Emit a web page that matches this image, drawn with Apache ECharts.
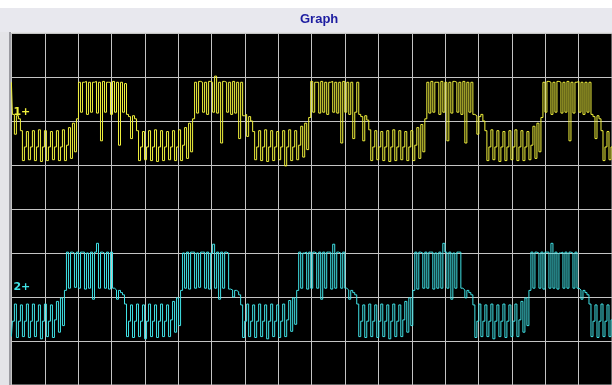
<!DOCTYPE html>
<html>
<head>
<meta charset="utf-8">
<script src="https://cdn.jsdelivr.net/npm/echarts@6/dist/echarts.min.js"></script>
<style>
html,body{margin:0;padding:0;background:#fff;}
#chart{width:612px;height:385px;}
</style>
</head>
<body>
<div id="chart"></div>
<script>
// Time base: horizontal divisions per sample
const sampleInterval = 0.06;
const channelNames = ['1+', '2+'];
const channelMarkerLevels = [6.2, 2.23];

// Channel 1 (yellow) trace, vertical divisions
const ch1Pre = [6.88, 6.15, 5.7, 6.12, 6.05,
  5.78, 5.1, 5.41, 5.76, 5.12, 5.41, 5.78, 5.1, 5.41, 5.8, 5.08, 5.41, 5.78, 5.1, 5.41, 5.76, 5.12, 5.41, 5.78, 5.1, 5.41, 5.8, 5.1, 5.45,
  5.85, 5.15, 5.95, 5.3, 6.05];
const ch1Period1 = [6.88, 6.2, 6.88, 6.9, 6.15, 6.88, 6.2, 6.88, 6.9, 6.18, 6.88, 5.55, 6.9, 6.2, 6.88, 6.88, 6.15, 6.9, 6.2, 6.88, 5.45, 6.88, 6.2,
  6.85, 6.15, 6.1, 5.6, 6.12, 6.05,
  5.78, 5.1, 5.41, 5.76, 5.12, 5.41, 5.78, 5.1, 5.41, 5.8, 5.08, 5.41, 5.78, 5.1, 5.41, 5.76, 5.12, 5.41, 5.78, 5.1, 5.41, 5.8, 5.1, 5.45,
  5.85, 5.15, 5.95, 5.3, 6.05];
const ch1Period2 = [6.88, 6.18, 6.9, 6.88, 6.2, 6.88, 6.15, 6.9, 6.88, 6.2, 7.02, 6.18, 6.88, 5.5, 6.9, 6.88, 6.2, 6.88, 6.15, 6.9, 6.18, 6.88, 5.6,
  6.88, 6.12, 6.15, 5.65, 6.1, 6.0,
  5.76, 5.12, 5.41, 5.78, 5.1, 5.41, 5.8, 5.08, 5.41, 5.78, 5.1, 5.41, 5.76, 5.12, 5.41, 5.78, 4.98, 5.41, 5.8, 5.1, 5.41, 5.78, 5.12, 5.45,
  5.88, 5.18, 5.95, 5.35, 6.08];
const ch1Period3 = [6.9, 6.2, 6.88, 6.88, 6.18, 6.9, 6.2, 6.88, 6.15, 6.88, 6.9, 6.2, 6.88, 6.18, 6.88, 5.5, 6.9, 6.2, 6.88, 6.15, 6.88, 5.6, 6.2,
  6.88, 6.15, 6.1, 5.55, 6.12, 6.02,
  5.8, 5.1, 5.41, 5.78, 5.12, 5.41, 5.76, 5.1, 5.41, 5.78, 5.08, 5.41, 5.8, 5.1, 5.41, 5.78, 5.12, 5.41, 5.76, 5.1, 5.41, 5.78, 5.1, 5.45,
  5.85, 5.15, 5.92, 5.3, 6.05];
const ch1Period4 = [6.88, 6.18, 6.9, 6.2, 6.88, 6.88, 6.15, 6.9, 6.2, 6.88, 5.55, 6.88, 6.18, 6.9, 6.88, 6.2, 6.88, 6.15, 6.9, 5.5, 6.88, 6.2, 6.88,
  6.15, 6.12, 5.7, 6.1, 6.15, 6.0,
  5.78, 5.1, 5.41, 5.8, 5.12, 5.41, 5.78, 5.08, 5.41, 5.76, 5.1, 5.41, 5.78, 5.12, 5.41, 5.8, 5.1, 5.41, 5.78, 5.1, 5.41, 5.76, 5.12, 5.45,
  5.88, 5.15, 5.95, 5.3, 6.08];
const ch1Period5 = [6.88, 6.2, 6.9, 6.88, 6.15, 6.88, 6.2, 6.9, 6.88, 6.18, 6.88, 6.2, 6.9, 5.55, 6.88, 6.18, 6.88, 6.9, 6.2, 6.88, 6.15, 6.88, 6.2,
  6.88, 6.15, 6.1, 5.6, 6.12, 6.05,
  5.78, 5.1, 5.41, 5.76, 5.12, 5.41];

// Channel 2 (cyan) trace, vertical divisions
const ch2Pre = [1.1, 1.45, 1.84, 1.08, 1.45, 1.82, 1.1, 1.45, 1.84, 1.08, 1.45, 1.84, 1.1, 1.45, 1.82, 1.05, 1.45, 1.84, 1.1, 1.45, 1.82, 1.08, 1.48,
  1.9, 1.2, 1.98, 1.35, 2.15];
const ch2Period1 = [3.02, 2.2, 3.02, 3.0, 2.22, 3.02, 2.2, 3.02, 3.02, 2.18, 3.0, 2.2, 3.02, 1.95, 3.02, 3.22, 2.2, 3.02, 3.0, 2.2, 3.02, 2.18, 3.02,
  2.2, 2.16, 1.95, 2.15, 2.1, 2.05,
  1.84, 1.1, 1.45, 1.82, 1.08, 1.45, 1.84, 1.1, 1.45, 1.82, 1.05, 1.45, 1.84, 1.1, 1.45, 1.82, 1.08, 1.45, 1.84, 1.1, 1.45, 1.82, 1.1, 1.48,
  1.9, 1.2, 1.98, 1.35, 2.15];
const ch2Period2 = [3.0, 2.2, 3.02, 2.18, 3.02, 3.02, 2.2, 3.0, 2.22, 3.02, 3.02, 2.2, 3.02, 2.18, 3.0, 3.2, 2.2, 3.02, 1.95, 3.02, 2.2, 3.02, 3.0,
  2.18, 2.16, 2.0, 2.15, 2.12, 2.05,
  1.82, 1.08, 1.45, 1.84, 1.1, 1.45, 1.82, 1.08, 1.45, 1.84, 1.1, 1.45, 1.82, 1.05, 1.45, 1.84, 1.1, 1.45, 1.82, 1.08, 1.45, 1.84, 1.1, 1.48,
  1.92, 1.22, 1.98, 1.38, 2.15];
const ch2Period3 = [3.02, 2.2, 3.0, 3.02, 2.18, 3.02, 2.2, 3.02, 3.0, 2.2, 3.02, 1.95, 3.02, 2.2, 3.02, 3.02, 2.18, 3.2, 2.2, 3.02, 3.0, 2.2, 3.02,
  2.2, 2.16, 1.95, 2.15, 2.1, 2.05,
  1.84, 1.1, 1.45, 1.82, 1.08, 1.45, 1.84, 1.1, 1.45, 1.82, 1.08, 1.45, 1.84, 1.1, 1.45, 1.82, 1.05, 1.45, 1.84, 1.1, 1.45, 1.82, 1.1, 1.48,
  1.9, 1.2, 1.98, 1.35, 2.15];
const ch2Period4 = [3.02, 2.18, 3.02, 3.0, 2.2, 3.02, 2.2, 3.02, 3.02, 2.18, 3.0, 2.2, 3.02, 2.2, 3.22, 3.02, 2.2, 3.02, 1.95, 3.0, 2.2, 3.02, 3.02,
  2.2, 2.16, 1.98, 2.15, 2.1, 2.05,
  1.82, 1.08, 1.45, 1.84, 1.1, 1.45, 1.82, 1.1, 1.45, 1.84, 1.05, 1.45, 1.82, 1.1, 1.45, 1.84, 1.08, 1.45, 1.82, 1.1, 1.45, 1.84, 1.1, 1.48,
  1.9, 1.2, 1.98, 1.35, 2.15];
const ch2Period5 = [3.02, 2.2, 3.02, 3.0, 2.2, 3.02, 2.18, 3.02, 3.02, 2.2, 3.22, 2.2, 3.02, 2.18, 3.0, 3.02, 2.2, 3.02, 2.2, 3.02, 3.0, 2.2, 3.02,
  2.2, 2.16, 1.95, 2.15, 2.1, 2.05,
  1.84, 1.1, 1.45, 1.82, 1.08, 1.45, 1.84, 1.1, 1.45, 1.82, 1.1, 1.48];

const ch1 = [].concat(ch1Pre, ch1Period1, ch1Period2, ch1Period3, ch1Period4, ch1Period5);
const ch2 = [].concat(ch2Pre, ch2Period1, ch2Period2, ch2Period3, ch2Period4, ch2Period5);
const toXY = arr => arr.map((v, i) => [i * sampleInterval, v]);

const YELLOW = '#f0f03c';
const CYAN = '#40e2e6';
const GRIDC = '#c4c4c4';

const chart = echarts.init(document.getElementById('chart'), null, {renderer: 'canvas'});
function marker(name, level, color) {
  return {
    symbol: 'rect', symbolSize: 0, silent: true,
    data: [{ coord: [0, level],
      label: { show: true, formatter: name, position: 'right', distance: 2, color: color,
               fontSize: 11, fontWeight: 'bold', fontFamily: 'DejaVu Sans' } }]
  };
}
chart.setOption({
  animation: false,
  backgroundColor: '#ffffff',
  graphic: [
    { type: 'rect', shape: { x: 0, y: 8, width: 612, height: 24 }, style: { fill: '#e8e8ee' }, z: -10 },
    { type: 'rect', shape: { x: 0, y: 32, width: 10, height: 353 }, style: { fill: '#e4e4e8' }, z: -10 },
    { type: 'rect', shape: { x: 9, y: 32, width: 2, height: 353 }, style: { fill: '#9a9aa0' }, z: -9 }
  ],
  title: {
    text: 'Graph', left: 300, top: 13, padding: 0,
    textStyle: { color: '#1c1ca0', fontSize: 13, fontWeight: 'bold', fontFamily: 'Liberation Sans' }
  },
  grid: { left: 11.4, top: 33, width: 604, height: 352, show: true, backgroundColor: '#000',
          borderColor: GRIDC, borderWidth: 1 },
  xAxis: { type: 'value', min: 0, max: 18, interval: 1,
    axisLine: { show: false }, axisTick: { show: false }, axisLabel: { show: false },
    splitLine: { show: true, lineStyle: { color: GRIDC, width: 1 } } },
  yAxis: { type: 'value', min: 0, max: 8, interval: 1,
    axisLine: { show: false }, axisTick: { show: false }, axisLabel: { show: false },
    splitLine: { show: true, lineStyle: { color: GRIDC, width: 1 } } },
  series: [
    { name: 'CH1', type: 'line', step: 'middle', showSymbol: false, data: toXY(ch1),
      lineStyle: { color: YELLOW, width: 1 }, z: 3,
      markPoint: marker(channelNames[0], channelMarkerLevels[0], YELLOW) },
    { name: 'CH2', type: 'line', step: 'middle', showSymbol: false, data: toXY(ch2),
      lineStyle: { color: CYAN, width: 1 }, z: 3,
      markPoint: marker(channelNames[1], channelMarkerLevels[1], CYAN) }
  ]
});
</script>
</body>
</html>
